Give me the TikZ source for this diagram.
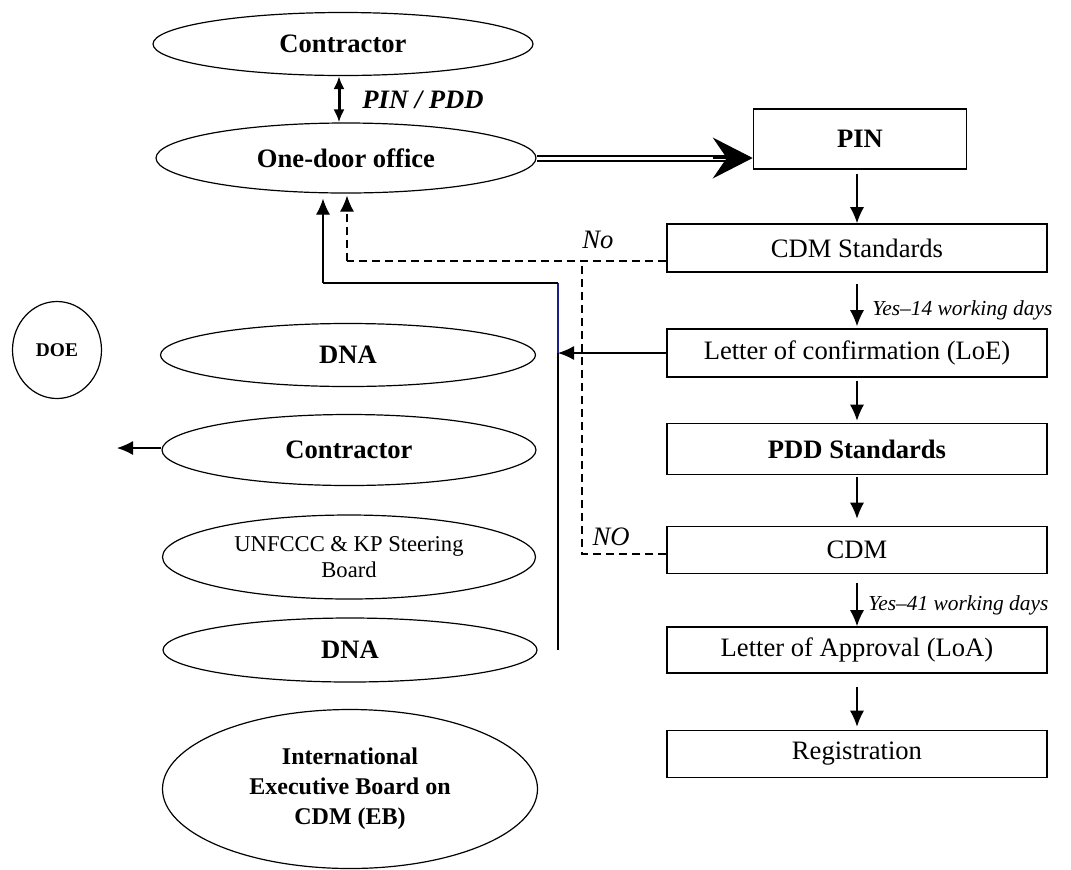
\documentclass[tikz,border=0pt]{standalone}
\usepackage{fontspec}
\setmainfont{Liberation Serif}
\usetikzlibrary{arrows.meta,shapes.geometric,calc}
\definecolor{trunkblue}{RGB}{30,30,140}
\tikzset{
  oval/.style={ellipse,draw,line width=0.6pt,inner sep=0pt,align=center,
    font=\fontsize{13.3}{15}\selectfont\bfseries},
  stagebox/.style={rectangle,draw,line width=0.8pt,inner sep=0pt,
    minimum width=190pt,minimum height=24pt,font=\fontsize{13.3}{15}\selectfont},
  arr/.style={-{Latex[length=8pt,width=7pt]},line width=0.6pt},
  dsh/.style={dash pattern=on 4pt off 2.5pt,line width=0.6pt},
  note/.style={font=\fontsize{10.7}{12}\selectfont\itshape,inner sep=0pt}
}
\begin{document}
\begin{tikzpicture}[x=0.5pt,y=-0.5pt]
  \useasboundingbox (0,0) rectangle (1071,869);
  % left column
  \node[oval,minimum width=190pt,minimum height=31.5pt] (con1) at (343,44) {Contractor};
  \node[oval,minimum width=190pt,minimum height=35pt] (odo) at (346,158) {One-door office};
  \node[oval,minimum width=44.5pt,minimum height=48.5pt,font=\fontsize{9.7}{11}\selectfont\bfseries] (doe) at (57,350) {DOE};
  \node[oval,minimum width=187.5pt,minimum height=31.5pt] (dna1) at (348,355) {DNA};
  \node[oval,minimum width=187pt,minimum height=35.5pt] (con2) at (349,450) {Contractor};
  \node[oval,minimum width=186.5pt,minimum height=42pt,font=\fontsize{11.3}{13}\selectfont] (unf) at (349,557) {UNFCCC \& KP Steering\\Board};
  \node[oval,minimum width=187pt,minimum height=32pt] (dna2) at (350,650) {DNA};
  \node[oval,minimum width=187.5pt,minimum height=79.5pt,font=\fontsize{12}{15}\selectfont\bfseries] (eb) at (350,789) {International\\Executive Board on\\CDM (EB)};
  % right column
  \node[stagebox,minimum width=106.5pt,minimum height=30pt,font=\fontsize{13.3}{15}\selectfont\bfseries] (pin) at (860,139) {PIN};
  \node[stagebox] (cstd) at (857,248) {CDM Standards};
  \node[stagebox] (loe) at (857,353) {Letter of confirmation (LoE)};
  \node[stagebox,minimum height=25.5pt,font=\fontsize{13.3}{15}\selectfont\bfseries] (pstd) at (857,449) {PDD Standards};
  \node[stagebox,minimum height=23.5pt] (cdm) at (857,550) {CDM};
  \node[stagebox,minimum height=23pt] (loa) at (857,650) {Letter of Approval (LoA)};
  \node[stagebox,minimum height=23.5pt] (reg) at (857,754) {Registration};

  \draw[{Latex[length=6.5pt,width=5.5pt]}-{Latex[length=6.5pt,width=5.5pt]},line width=1.5pt] (con1.south -| 339,0) -- (odo.north -| 339,0);
  \node[font=\fontsize{13.3}{15}\selectfont\bfseries\itshape,anchor=west,inner sep=0pt] (pinpdd) at (362,100) {PIN / PDD};

  \draw[double,double distance=1.5pt,line width=1pt] (odo.east) -- ($(odo.east -| pin.west)+(-22,0)$);
  \draw[-{Stealth[length=20pt,width=20.5pt,inset=7pt]},line width=0.6pt] ($(odo.east -| pin.west)+(-40,0)$) -- (odo.east -| pin.west);

  \draw[arr,shorten <=2pt] (pin.south -| cstd.north) -- (cstd.north);
  \draw[arr,shorten <=5.5pt,shorten >=1pt] (cstd) -- (loe);
  \draw[arr,shorten <=1.5pt,shorten >=1pt] (loe) -- (pstd);
  \draw[arr,shorten <=1pt,shorten >=3.5pt] (pstd) -- (cdm);
  \draw[arr,shorten <=4.5pt] (cdm) -- (loa);
  \draw[arr,shorten <=6.5pt,shorten >=1.5pt] (loa) -- (reg);
  \node[note,anchor=west] (yes14) at (872,310) {Yes--14 working days};
  \node[note,anchor=west] (yes41) at (868,605) {Yes--41 working days};

  % return paths
  \coordinate (tbot) at (558,650);
  \coordinate (ttop) at (558,283);
  \coordinate (ret) at (323,283);
  \coordinate (dj) at (582,261);
  \coordinate (dret) at (347,261);
  \coordinate (c2out) at (117,448);
  \draw[line width=0.8pt] (tbot) -- (tbot |- loe.west);
  \draw[line width=0.8pt,trunkblue] (tbot |- loe.west) -- (ttop);
  \draw[line width=0.8pt] (ttop) -- (ret);
  \draw[arr] (ret) -- ($(ret |- odo.south)+(0,5)$);
  \draw[arr] (loe.west) -- (loe.west -| tbot);
  \draw[dsh] (cstd.west |- dj) -- (dret);
  \draw[dsh,arr] (dret) -- ($(dret |- odo.south)+(0,2)$);
  \draw[dsh] (cdm.west |- 0,554) -| (dj);
  \node[font=\fontsize{13.3}{15}\selectfont\itshape,inner sep=0pt] (no1) at (598,240) {No};
  \node[font=\fontsize{13.3}{15}\selectfont\itshape,inner sep=0pt] (no2) at (611,537) {NO};
  \draw[arr] (con2.west |- c2out) -- (c2out);
\end{tikzpicture}
\end{document}
